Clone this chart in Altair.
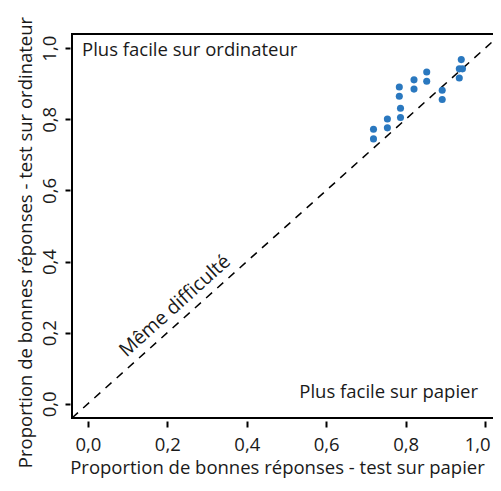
import altair as alt
import pandas as pd

# proportion of correct answers per item
papier = [0.719, 0.719, 0.754, 0.754, 0.787, 0.787, 0.784, 0.784, 0.821, 0.821,
          0.853, 0.853, 0.892, 0.892, 0.940, 0.935, 0.943, 0.935]
ordinateur = [0.772, 0.745, 0.801, 0.776, 0.831, 0.805, 0.891, 0.865, 0.911, 0.885,
              0.933, 0.907, 0.882, 0.856, 0.968, 0.942, 0.942, 0.916]
tick_values = [0.0, 0.2, 0.4, 0.6, 0.8, 1.0]
annotations = ["Plus facile sur ordinateur", "Plus facile sur papier", "Même difficulté"]
domain = [-0.04, 1.04]

df = pd.DataFrame({"papier": papier, "ordinateur": ordinateur})

FONT = "Open Sans"
FS = 18.5
TXT = "#1a1a1a"
label_expr = "replace(format(datum.value, '.1f'), '.', ',')"

xscale = alt.Scale(domain=domain, nice=False, zero=False)
yscale = alt.Scale(domain=domain, nice=False, zero=False)

xaxis = alt.Axis(values=tick_values, labelExpr=label_expr, grid=False, domain=False,
                 offset=3, tickSize=6, tickWidth=2, tickColor="black",
                 labelOffset=alt.ExprRef(expr="datum.value >= 1 ? -8 : 0"),
                 labelPadding=8, labelFontSize=FS, labelFont=FONT, labelColor=TXT,
                 title="Proportion de bonnes réponses - test sur papier",
                 titleFontSize=FS, titleFont=FONT, titleColor=TXT, titleFontWeight="normal",
                 titleBaseline="alphabetic", titleY=52, titleX=205, titleAlign="center")
yaxis = alt.Axis(values=tick_values, labelExpr=label_expr, grid=False, domain=False,
                 offset=2, tickSize=5, tickWidth=2, tickColor="black",
                 labelAngle=270, labelAlign="center", labelBaseline="alphabetic",
                 labelPadding=10, labelFontSize=FS, labelFont=FONT, labelColor=TXT,
                 title="Proportion de bonnes réponses - test sur ordinateur",
                 titleFontSize=FS, titleFont=FONT, titleColor=TXT, titleFontWeight="normal",
                 titleAngle=270, titleBaseline="alphabetic", titleX=-39, titleY=208,
                 titleAlign="center")

points = alt.Chart(df).mark_circle(size=50, color="#2a78bf", opacity=1).encode(
    x=alt.X("papier:Q", scale=xscale, axis=xaxis),
    y=alt.Y("ordinateur:Q", scale=yscale, axis=yaxis),
)

one = pd.DataFrame({"k": [0]})

diag = alt.Chart(one).mark_rule(color="black", strokeWidth=1.5, strokeDash=[8, 7]).encode(
    x=alt.datum(domain[0]), y=alt.datum(domain[0]),
    x2=alt.datum(domain[1]), y2=alt.datum(domain[1]),
)

t1 = alt.Chart(one).mark_text(text=annotations[0], align="left", baseline="alphabetic",
                               font=FONT, fontSize=FS, color=TXT).encode(
    x=alt.value(10), y=alt.value(22))
t2 = alt.Chart(one).mark_text(text=annotations[1], align="right", baseline="alphabetic",
                               font=FONT, fontSize=FS, color=TXT).encode(
    x=alt.value(406), y=alt.value(364))
t3 = alt.Chart(one).mark_text(text=annotations[2], align="center", baseline="middle",
                               font=FONT, fontSize=19.5, color=TXT, angle=318).encode(
    x=alt.value(103), y=alt.value(272))

chart = alt.layer(diag, points, t1, t2, t3).properties(
    width=429, height=384,
    autosize=alt.AutoSizeParams(type="none"),
    padding={"left": 64, "top": 26, "right": -8, "bottom": 60},
).configure_view(stroke="black", strokeWidth=2)

chart.save("out.html", embed_options={"renderer": "svg", "actions": False})
